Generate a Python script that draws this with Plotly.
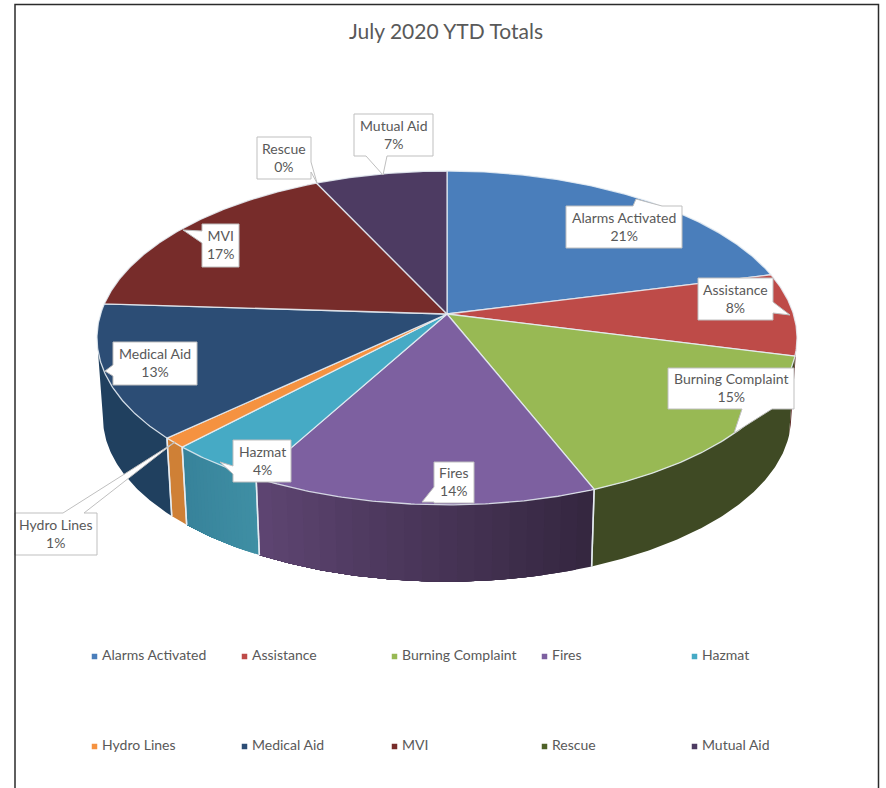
import math
import plotly.graph_objects as go

# Year-to-date call totals, percent of all calls
categories = ["Alarms Activated", "Assistance", "Burning Complaint", "Fires", "Hazmat",
              "Hydro Lines", "Medical Aid", "MVI", "Rescue", "Mutual Aid"]
shares = [21, 8, 15, 14, 4, 1, 13, 17, 0, 7]

top_colors = ["#4a7ebb", "#be4b48", "#98b954", "#7d60a0", "#46aac5",
              "#f59240", "#2c4d75", "#772c2a", "#4f6228", "#4d3b62"]
# Wall shading runs from the first colour to the second along each slice's rim
wall_shades = [("#3a6494", "#3a6494"), ("#5c2523", "#5c2523"), ("#3f4a24", "#3f4a24"),
               ("#34263f", "#5e4572"), ("#3f8fa4", "#37829a"), ("#cf8036", "#cf8036"),
               ("#20405f", "#20405f"), ("#4f1e1c", "#4f1e1c"), ("#3f4a24", "#3f4a24"),
               ("#3a2c4a", "#3a2c4a")]

legend_cols = [94, 244, 394, 544, 694]
legend_rows = [656, 746]

# Callout boxes: x0, y0, x1, y1, edge carrying the pointer, pointer base a-b, pointer tip
callouts = {
    "Alarms Activated": (566, 206, 682, 248, "top", 633, 662, 636, 199),
    "Assistance": (698, 278, 773, 320, "right", 302, 313, 790, 315),
    "Burning Complaint": (668, 368, 794, 409, "bottom", 742, 772, 734, 433),
    "Fires": (434, 462, 474, 503, "left", 487, 502, 422, 502),
    "Hazmat": (233, 440, 291, 482, "left", 466, 474, 220, 462),
    "Hydro Lines": (15, 513, 97, 555, "top", 63, 84, 175, 442),
    "Medical Aid": (113, 342, 197, 385, "left", 365, 376, 105, 371),
    "MVI": (202, 224, 239, 267, "left", 231, 243, 183, 230),
    "Rescue": (257, 137, 311, 179, "right", 162, 172, 317, 183),
    "Mutual Aid": (354, 114, 433, 156, "bottom", 366, 387, 383, 175),
}

# Perspective of the disc around its hub
HUB_X, HUB_Y = 447, 314
RADIUS_X, RADIUS_Y, TILT = 346.4, 163.5, 0.1435
BASE_SCALE, DEPTH = 0.983, 80

TEXT = "#595959"
EDGE = "rgba(232,238,244,0.85)"


def rim(theta):
    w = 1 + TILT * math.cos(theta)
    return HUB_X + RADIUS_X * math.sin(theta) / w, HUB_Y - RADIUS_Y * math.cos(theta) / w


def base_rim(theta):
    x, y = rim(theta)
    return HUB_X + BASE_SCALE * (x - HUB_X), HUB_Y + BASE_SCALE * (y - HUB_Y) + DEPTH


def arc(fn, a, b, step=math.radians(0.5)):
    n = max(1, int(abs(b - a) / step))
    return [fn(a + (b - a) * i / n) for i in range(n + 1)]


def polygon(points, fill, line_color, line_width):
    xs, ys = zip(*points)
    return go.Scatter(x=list(xs) + [xs[0]], y=list(ys) + [ys[0]], mode="lines", fill="toself",
                      fillcolor=fill, line=dict(color=line_color, width=line_width),
                      hoverinfo="skip", showlegend=False)


def mix(c1, c2, t):
    a = [int(c1[i:i + 2], 16) for i in (1, 3, 5)]
    b = [int(c2[i:i + 2], 16) for i in (1, 3, 5)]
    return "#%02x%02x%02x" % tuple(round(p + (q - p) * t) for p, q in zip(a, b))


def callout_points(box):
    x0, y0, x1, y1, side, a, b, tx, ty = box
    tip = (tx, ty)
    if side == "top":
        return [(x0, y0), (a, y0), tip, (b, y0), (x1, y0), (x1, y1), (x0, y1)]
    if side == "right":
        return [(x0, y0), (x1, y0), (x1, a), tip, (x1, b), (x1, y1), (x0, y1)]
    if side == "bottom":
        return [(x0, y0), (x1, y0), (x1, y1), (b, y1), tip, (a, y1), (x0, y1)]
    return [(x0, y0), (x1, y0), (x1, y1), (x0, y1), (x0, b), tip, (x0, a)]


fig = go.Figure()

total = sum(shares)
bounds = [0.0]
for s in shares:
    bounds.append(bounds[-1] + 2 * math.pi * s / total)

# Side wall, only over the part of the rim that faces the viewer
wall_start = math.acos(-TILT)
wall_end = 2 * math.pi - wall_start
seam_margin = math.radians(10)
seams = []
for i, s in enumerate(shares):
    a, b = max(bounds[i], wall_start), min(bounds[i + 1], wall_end)
    if s == 0 or b <= a:
        continue
    c1, c2 = wall_shades[i]
    bands = 1 if c1 == c2 else 20
    # Each band runs on to the slice's end, so the next one paints over it without a gap
    for k in range(bands):
        t0 = a + (b - a) * k / bands
        pts = arc(rim, t0, b) + arc(base_rim, b, t0)
        fig.add_trace(polygon(pts, mix(c1, c2, (k + 0.5) / bands), "rgba(0,0,0,0)", 0))
    # Slice boundaries close to the silhouette get no seam
    seams += [t for t in (a, b) if wall_start + seam_margin < t < wall_end - seam_margin]

# Pale seams where neighbouring walls meet
for t in seams:
    p, q = rim(t), base_rim(t)
    fig.add_trace(go.Scatter(x=[p[0], q[0]], y=[p[1], q[1]], mode="lines",
                             line=dict(color=EDGE, width=1.5),
                             hoverinfo="skip", showlegend=False))

# Top faces of the slices
for i, s in enumerate(shares):
    if s == 0:
        continue
    pts = [(HUB_X, HUB_Y)] + arc(rim, bounds[i], bounds[i + 1])
    fig.add_trace(polygon(pts, top_colors[i], EDGE, 1.3))

# Callouts naming each slice
annotations = []
for name, value in zip(categories, shares):
    box = callouts[name]
    fig.add_trace(polygon(callout_points(box), "#ffffff", "#bfbfbf", 1))
    annotations.append(dict(x=(box[0] + box[2]) / 2, y=(box[1] + box[3]) / 2 - 0.7,
                            text=f"{name}<br>{value}%", showarrow=False, xref="x", yref="y",
                            align="center", font=dict(family="Lato", size=14, color=TEXT)))

# Key below the pie, five entries per row
for i, (name, color) in enumerate(zip(categories, top_colors)):
    col, row = i % 5, i // 5
    fig.add_trace(go.Scatter(x=[legend_cols[col] + 0.5], y=[legend_rows[row] + 0.5], mode="markers",
                             marker=dict(symbol="square", size=5.5, color=color),
                             hoverinfo="skip", showlegend=False))
    annotations.append(dict(x=legend_cols[col] + 6, y=legend_rows[row] - 2, text=name,
                            showarrow=False, xref="x", yref="y", xanchor="left",
                            font=dict(family="Lato", size=14, color=TEXT)))

annotations.append(dict(x=446, y=30, text="July 2020 YTD Totals", showarrow=False,
                        xref="x", yref="y", font=dict(family="Lato", size=21, color=TEXT)))

fig.update_layout(
    width=886, height=788, margin=dict(l=0, r=0, t=0, b=0), autosize=False,
    paper_bgcolor="#ffffff", plot_bgcolor="#ffffff", showlegend=False,
    xaxis=dict(range=[0, 886], visible=False, fixedrange=True),
    yaxis=dict(range=[788, 0], visible=False, fixedrange=True),
    annotations=annotations,
    shapes=[dict(type="path", path="M 15 800 L 15 4.5 L 878.5 4.5 L 878.5 800",
                 xref="x", yref="y", layer="above",
                 line=dict(color="#2b2b2b", width=1.5))],
)

fig.write_html("out.html")
